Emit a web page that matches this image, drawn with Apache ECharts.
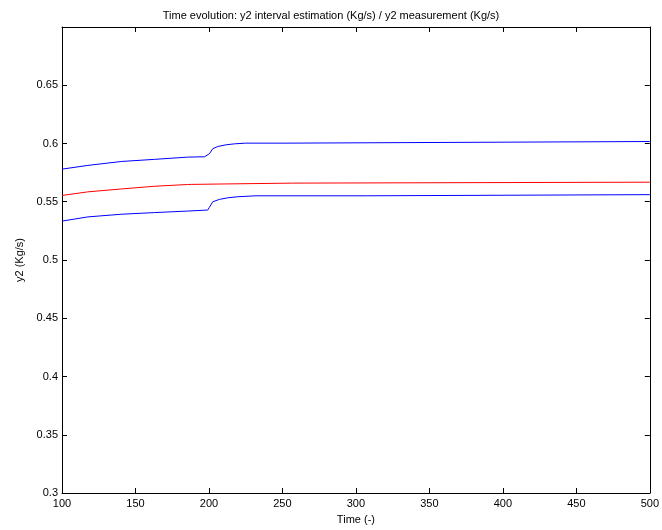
<!DOCTYPE html>
<html>
<head>
<meta charset="utf-8">
<script src="https://cdn.jsdelivr.net/npm/echarts@6/dist/echarts.min.js"></script>
<style>
  html, body { margin: 0; padding: 0; background: #fff; }
  #chart { width: 662px; height: 530px; }
</style>
</head>
<body>
<div id="chart"></div>
<script>
// Upper bound of the y2 interval estimate
const upperTime = [100, 117.6, 140.7, 163, 185.4, 197, 200.3, 202.6, 206, 211.7, 217.3, 225, 252.3, 253.4, 500];
const upperVal  = [0.578, 0.5812, 0.5846, 0.5864, 0.5883, 0.5886, 0.5912, 0.5955, 0.5974, 0.5989, 0.5997, 0.6003, 0.6003, 0.6017, 0.6017];

// y2 measurement
const measTime = [100, 117.6, 140.7, 163, 185.4, 188, 188.1, 212, 212.1, 257, 257.1, 500];
const measVal  = [0.5554, 0.5585, 0.561, 0.5633, 0.5648, 0.5649, 0.5653, 0.5653, 0.566, 0.566, 0.5668, 0.5668];

// Lower bound of the y2 interval estimate
const lowerTime = [100, 117.6, 140.7, 163, 185.4, 199.2, 200.3, 202.6, 207.1, 212.8, 219.6, 232, 307, 307.1, 500];
const lowerVal  = [0.5334, 0.537, 0.5393, 0.5407, 0.542, 0.5429, 0.5452, 0.55, 0.552, 0.5534, 0.5543, 0.5551, 0.5551, 0.5561, 0.5561];

const xTicks = { min: 100, max: 500, interval: 50 };
const yTicks = { min: 0.3, max: 0.7, interval: 0.05 };

const pairs = (t, v) => t.map((x, i) => [x, v[i]]);

const font = 'Liberation Sans, Arial, sans-serif';
const axisLine = { show: true, lineStyle: { color: '#000', width: 1 } };
const tick = { show: true, inside: true, length: 5, lineStyle: { color: '#000', width: 1 } };

const chart = echarts.init(document.getElementById('chart'), null, { renderer: 'canvas' });
chart.setOption({
  animation: false,
  backgroundColor: '#fff',
  title: {
    text: 'Time evolution: y2 interval estimation (Kg/s) / y2 measurement (Kg/s)',
    left: 'center', top: 5,
    textStyle: { fontFamily: font, fontSize: 11, fontWeight: 'normal', color: '#000' }
  },
  grid: { left: 62, right: 10, top: 27, bottom: 37 },
  xAxis: [{
    type: 'value', position: 'bottom',
    min: xTicks.min, max: xTicks.max, interval: xTicks.interval,
    name: 'Time (-)', nameLocation: 'middle', nameGap: 21,
    nameTextStyle: { fontFamily: font, fontSize: 11, color: '#000' },
    axisLine: axisLine, axisTick: tick,
    axisLabel: { fontFamily: font, fontSize: 11, color: '#000', margin: 5 },
    splitLine: { show: false }
  }, {
    type: 'value', position: 'top',
    min: xTicks.min, max: xTicks.max, interval: xTicks.interval,
    axisLine: axisLine, axisTick: tick, axisLabel: { show: false }, splitLine: { show: false }
  }],
  yAxis: [{
    type: 'value', position: 'left',
    min: yTicks.min, max: yTicks.max, interval: yTicks.interval,
    name: 'y2 (Kg/s)', nameLocation: 'middle', nameGap: 36, nameRotate: 90,
    nameTextStyle: { fontFamily: font, fontSize: 11, color: '#000' },
    axisLine: axisLine, axisTick: tick,
    axisLabel: {
      fontFamily: font, fontSize: 11, color: '#000', margin: 4,
      formatter: v => (Math.abs(v - yTicks.max) < 1e-9 ? '' : String(+v.toFixed(2)))
    },
    splitLine: { show: false }
  }, {
    type: 'value', position: 'right',
    min: yTicks.min, max: yTicks.max, interval: yTicks.interval,
    axisLine: axisLine, axisTick: tick, axisLabel: { show: false }, splitLine: { show: false }
  }],
  series: [
    { name: 'upper', type: 'line', data: pairs(upperTime, upperVal), showSymbol: false,
      lineStyle: { color: '#0000ff', width: 1 }, itemStyle: { color: '#0000ff' } },
    { name: 'measurement', type: 'line', data: pairs(measTime, measVal), showSymbol: false,
      lineStyle: { color: '#ff0000', width: 1 }, itemStyle: { color: '#ff0000' } },
    { name: 'lower', type: 'line', data: pairs(lowerTime, lowerVal), showSymbol: false,
      lineStyle: { color: '#0000ff', width: 1 }, itemStyle: { color: '#0000ff' } }
  ]
});
</script>
</body>
</html>
